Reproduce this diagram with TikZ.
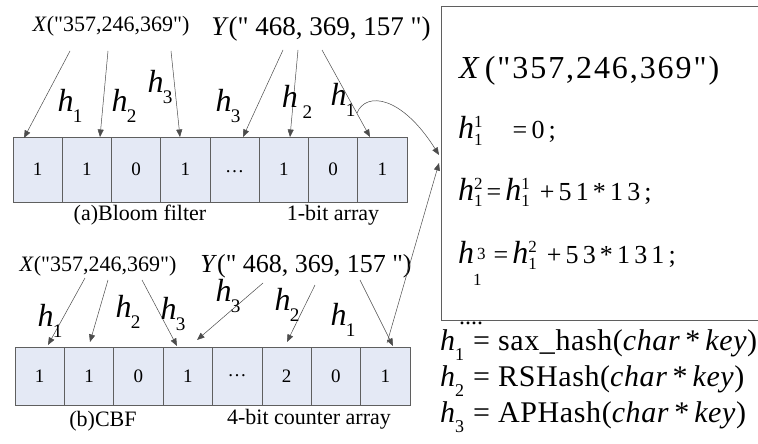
\documentclass[tikz,border=0pt]{standalone}
\usepackage{fontspec}
\usepackage{graphicx}
\setmainfont{Liberation Serif}[Ligatures=TeXOff]
\newfontfamily\spacedserif[LetterSpace=6]{Liberation Serif}
\newfontfamily\eqserif[LetterSpace=16]{Liberation Serif}
\newfontfamily\hashserif[LetterSpace=2]{Liberation Serif}
\usetikzlibrary{arrows.meta}
\definecolor{cellfill}{RGB}{228,233,245}
\definecolor{edgegray}{RGB}{95,95,95}
\newcommand\hlab[1]{\textit{h}\kern-0.02em\raisebox{-0.32em}{\scalebox{0.6}{#1}}}
\newcommand\smallidx[1]{{\fontsize{17}{17}\selectfont #1}}
\newcommand\bigh{{\fontsize{32}{34}\selectfont\textit{h}}}
\newcommand\heq[2]{\bigh\rlap{\raisebox{11pt}{\smallidx{#2}}}\raisebox{-6pt}{\smallidx{#1}}}
\begin{document}
\begin{tikzpicture}[x=1pt,y=-1pt,
  lbl/.style={inner sep=0pt,font=\fontsize{22}{24}\selectfont},
  ylbl/.style={inner sep=0pt,font=\fontsize{27}{29}\selectfont},
  hl/.style={inner sep=0pt,font=\fontsize{32}{34}\selectfont},
  cellA/.style={draw=edgegray,fill=cellfill,line width=0.6pt,minimum width=49.25pt,minimum height=65pt,inner sep=0pt,font=\fontsize{19}{20}\selectfont},
  cellB/.style={draw=edgegray,fill=cellfill,line width=0.6pt,minimum width=49.375pt,minimum height=58pt,inner sep=0pt,font=\fontsize{19}{20}\selectfont},
  arr/.style={-{Triangle[length=7.5pt,width=6pt]},draw=black!70,line width=0.5pt},
  eq/.style={inner sep=0pt,anchor=base west,font=\fontsize{26}{28}\selectfont},
  hash/.style={inner sep=0pt,anchor=west,font=\fontsize{30}{32}\hashserif},
  boxline/.style={draw=edgegray,line width=0.8pt}
]
\useasboundingbox (0,0) rectangle (758,444);
\fill[white] (0,0) rectangle (758,444);

% ---------- top array ----------
\foreach \v [count=\i] in {1,1,0,1,\dots,1,0,1}{
  \node[cellA] (a\i) at ({13+49.25*(\i-0.5)},169.5) {\raisebox{-7pt}{\v}};
}
\node[lbl] (xa) at (111,26) {\textit{X}("357,246,369")};
\node[ylbl] (ya) at (321,29) {\textit{Y}(" 468, 369, 157 ")};
\node[lbl] (capa) at (140,215) {(a)Bloom filter};
\node[lbl] (capa2) at (333,215) {1-bit array};

\coordinate (ta1) at (70,51);  \coordinate (ea1) at (24,138);
\coordinate (ta2) at (108,51); \coordinate (ea2) at (100,137);
\coordinate (ta3) at (171,51); \coordinate (ea3) at (180,137);
\coordinate (ta4) at (283,50); \coordinate (ea4) at (243,137);
\coordinate (ta5) at (298,50); \coordinate (ea5) at (290,137);
\coordinate (ta6) at (322,50); \coordinate (ea6) at (370,137);
\foreach \k in {1,...,6}{\draw[arr] (ta\k) -- (ea\k);}

\node[hl] (ha1) at (70,106) {\hlab{1}};
\node[hl] (ha2) at (124,106) {\hlab{2}};
\node[hl] (ha3) at (160,87) {\hlab{3}};
\node[hl] (ha4) at (228,106) {\hlab{3}};
\node[hl] (ha5) at (297,102) {\textit{h}\kern0.15em\raisebox{-0.32em}{\scalebox{0.6}{2}}};
\node[hl] (ha6) at (343,100) {\hlab{1}};

% ---------- bottom array ----------
\foreach \v [count=\i] in {1,1,0,1,\dots,2,0,1}{
  \node[cellB] (b\i) at ({15+49.375*(\i-0.5)},376) {\v};
}
\node[lbl] (xb) at (98,266) {\textit{X}("357,246,369")};
\node[ylbl,font=\fontsize{26}{28}\selectfont] (yb) at (306,266) {\textit{Y}(" 468, 369, 157 ")};
\node[lbl] (capb) at (103,421) {(b)CBF};
\node[lbl] (capb2) at (309,419) {4-bit counter array};

\coordinate (tb1) at (85,278);  \coordinate (eb1) at (48,345);
\coordinate (tb2) at (108,280); \coordinate (eb2) at (90,342);
\coordinate (tb3) at (142,280); \coordinate (eb3) at (177,346);
\coordinate (tb4) at (263,283); \coordinate (eb4) at (197,340);
\coordinate (tb5) at (315,285); \coordinate (eb5) at (287,342);
\coordinate (tb6) at (360,280); \coordinate (eb6) at (393,346);
\foreach \k in {1,...,6}{\draw[arr] (tb\k) -- (eb\k);}

\node[hl] (hb1) at (50,321) {\hlab{1}};
\node[hl] (hb2) at (128,312) {\hlab{2}};
\node[hl] (hb3) at (173,314) {\hlab{3}};
\node[hl] (hb4) at (228,296) {\hlab{3}};
\node[hl] (hb5) at (287,305) {\hlab{2}};
\node[hl] (hb6) at (343,320) {\hlab{1}};

% ---------- right box ----------
\draw[boxline] (758,6) -- (441,6) -- (441,320) -- (758,320);
\coordinate (in1) at (439,155);
\coordinate (in2) at (439,163);
\coordinate (outa) at (357,113);
\coordinate (outb) at (387,343);
\draw[arr] (outa) .. controls (366,91) and (402,96) .. (in1);
\draw[arr] (outb) -- (in2);

\node[eq,font=\fontsize{32}{34}\spacedserif] (bx) at (459,78) {\textit{X}\kern0.1em("357,246,369")};
\node[eq] (e1) at (458,139) {\heq{1}{1}\hspace{30pt}{\eqserif =0;}};
\node[eq] (e2) at (458,200) {\heq{1}{2}\kern4pt=\kern4pt\heq{1}{1}\hspace{10pt}{\eqserif +51*13;}};
\node[eq] (e3) at (458,263) {\bigh\rlap{\raisebox{4pt}{\kern3pt\smallidx{3}}}\raisebox{-22pt}{\kern-1pt\smallidx{1}}\hspace{12pt}=\kern4pt\heq{1}{2}\hspace{10pt}{\eqserif +53*131;}};
\node[eq,font=\fontsize{24}{26}\selectfont] (dots) at (459,324) {....};

\node[hash] (h1) at (440,345) {\hlab{1}\hspace{0.3em}= sax\_hash(\textit{char}\,*\,\textit{key})};
\node[hash] (h2) at (440,381) {\hlab{2}\hspace{0.3em}= RSHash(\textit{char}\,*\,\textit{key})};
\node[hash] (h3) at (440,417) {\hlab{3}\hspace{0.3em}= APHash(\textit{char}\,*\,\textit{key})};
\end{tikzpicture}
\end{document}
